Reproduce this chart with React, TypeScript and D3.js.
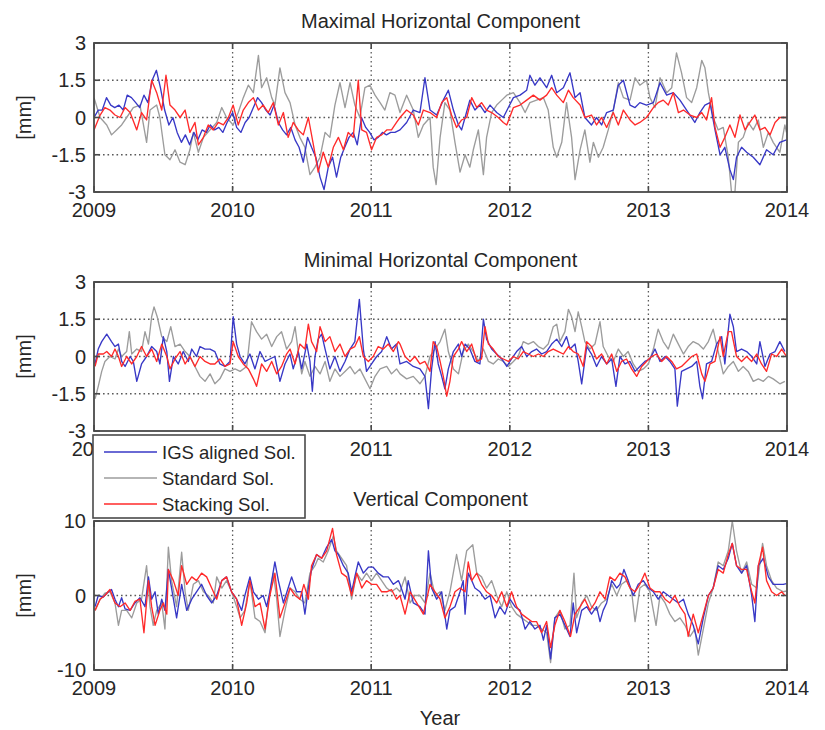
import React from 'react'
import * as d3 from 'd3'

type Pt = [number, number] // [week since 2009-01-01, mm]

const WEEKS_PER_YEAR = 52.18
const years = [2009, 2010, 2011, 2012, 2013, 2014]
const horizTicks = [-3, -1.5, 0, 1.5, 3]
const vertTicks = [-10, 0, 10]
const panelTitles = ['Maximal Horizontal Component', 'Minimal Horizontal Component', 'Vertical Component']
const seriesNames = ['IGS aligned Sol.', 'Standard Sol.', 'Stacking Sol.']
const seriesColors = ['#3838c6', '#9c9c9c', '#ff2a2a']

// Maximal horizontal component
const maxIgs: Pt[] = [
    [0, 0], [1.6, 0.3], [3.1, 0.3], [4.7, 0.8], [6.3, 0.5], [7.8, 0.4], [9.4, 0.5], [11, 0.3], [12.5, 0.9], [14.1, 0.8],
    [15.7, 0.6], [17.2, 0.4], [18.8, 0.9], [20.3, 0.6], [21.9, 1.5], [23.5, 1.9], [25, 1.2], [26.6, 0.3], [28.2, -0.3], [29.7, 0],
    [31.3, -0.6], [32.9, -1], [34.4, -0.7], [36, -1.1], [37.6, -0.6], [39.1, -0.9], [40.7, -0.5], [42.3, -0.6], [43.8, -0.3], [45.4, -0.5],
    [47, -0.4], [48.5, -0.6], [50.1, -0.2], [52.2, 0.2], [53.7, -0.4], [55.3, -0.6], [56.9, -0.2], [58.4, 0], [60, 0.4], [61.6, 0.8],
    [63.1, 0.6], [64.7, 0.3], [66.3, 0.1], [67.8, 0.5], [69.4, -0.2], [71, -0.5], [72.5, -0.7], [74.1, -0.4], [75.7, -0.9], [77.2, -1.2],
    [78.8, -1.8], [80.4, -0.8], [81.9, -1.2], [83.5, -1.6], [85.1, -2.4], [86.6, -2.9], [88.2, -2], [89.8, -1.6], [91.3, -2.4], [92.9, -1.6],
    [94.4, -1.2], [96, -0.8], [97.6, -0.6], [99.1, -1.1], [100.7, 0], [102.3, -0.4], [103.8, -0.6], [105.4, -0.9], [107, -0.8], [108.6, -0.6],
    [110.1, -0.7], [111.7, -0.6], [113.3, -0.6],
    [115.2, -0.5], [117.7, -0.2], [120.2, 0.3], [122.7, 0.2], [124.6, 1.6], [126.5, 0.3], [129, 0.1], [131.5, 0.7], [133.4, 1.1], [135.3, 0.3],
    [137.2, -0.3], [138.4, -0.5], [139.7, 0], [141.5, 0.7], [143.4, 0.3], [145.3, 0.5], [147.2, 0.2], [149.1, 0.5], [151.6, 0.2], [154.1, 0],
    [156, 0.4], [157.9, 0.8], [160.4, 0.9], [162.9, 1.1], [164.1, 1.7], [166, 1.3], [167.9, 1.6], [170.4, 1.2], [172.3, 1.7], [174.2, 1],
    [176.7, 1.2], [179.2, 1.8], [181.1, 0.8], [183, 1], [184.8, 0], [187.3, -0.3], [189.2, 0], [191.1, -0.3], [193, 0.2], [195.5, 0.3],
    [197.4, 1.3], [199.3, 1.5], [201.8, 0.5], [203.7, 0.4], [205.5, 0.6], [208, 0.5], [210.6, 0.6], [213.1, 1.4], [215.6, 0.9], [218.1, 1],
    [220.6, 0.7], [223.1, 0.3], [226.2, -0.2], [228.1, 0.2], [230, 0.5], [231.9, 0.6], [233.8, -0.5], [235.7, -1.5], [237.5, -1.2], [239.4, -2.1],
    [240.7, -2.5], [241.9, -1.6], [243.8, -1.2], [245.7, -1.4], [248.2, -1.6], [250.7, -1.9], [253.2, -1.3], [255.7, -1.5], [258.2, -1], [260.7, -0.9],
]
const maxStd: Pt[] = [
    [0, 0.8], [2.3, 0], [4.8, -0.3], [6.6, -0.7], [8.5, -0.5], [10.4, -0.3], [12.3, 0], [14.8, 0.4], [17.3, 0.5], [19.8, -1],
    [21.1, 0.3], [23.6, 0.5], [24.8, 0], [26.7, -1.5], [28.6, -1.7], [30.5, -1.3], [32.4, -1.8], [34.3, -1.9], [36.1, -1.3], [37.4, -0.6],
    [39.3, -1.4], [41.2, -0.8], [43.7, -0.5], [46.2, -0.2], [48.1, 0.4], [49.9, 0], [52.4, -0.3], [54.3, 0.2], [56.2, 0.8], [58.1, 1.3],
    [60, 1], [61.9, 2.5], [63.1, 1.2], [65, 1.6], [66.9, 0.8], [68.1, 0.5], [70, 2], [71.9, 1], [73.8, 0.6], [75.7, -0.3],
    [77.5, -0.8], [79.4, -1.2], [81.3, -2.3], [83.2, -2], [85.1, -1.6], [87, -0.6], [88.8, -0.8], [90.7, 0.5], [92.6, 1.4], [94.5, 0.4],
    [96.4, 1.4], [98.2, 0.5], [100.1, 0], [102, 1.2], [103.9, 1.3], [105.8, 0.9], [107.7, 0.6], [109.5, 0.3], [111.4, 1], [113.3, 0.9],
    [115.2, 0.2], [117.7, 0.9], [120.2, 0.3], [122.1, -0.8], [124, -0.3], [126.5, 0], [127.7, -2], [128.8, -2.7], [130.3, -0.8], [132.1, 0.6],
    [134, 0.3], [135.9, -1], [137.8, -2.2], [139.7, -1.5], [141.5, -2], [142.8, -1.3], [144.7, -0.5], [146.6, -2.3], [147.8, -0.8], [149.7, 0.2],
    [151.6, 0.5], [153.5, 0.7], [155.4, 0.9], [157.9, 1], [160.4, 0.6], [162.3, 0.2], [164.1, 0.6], [166.6, 0.7], [169.2, 0.8], [171, 0.3],
    [172.9, -1.2], [174.2, -1.6], [176.1, -1], [177.9, 0.6], [179.8, -0.8], [181.1, -2.5], [183, -1.3], [184.8, -0.5], [186.7, -1.8], [188, -1],
    [189.9, -1.6], [191.7, -1.2], [193.6, -0.5], [195.5, 0.3], [197.4, 1.4], [199.3, 0.8], [201.8, 0.7], [203.7, 1.6], [205.5, 1.3], [208, 1.5],
    [209.3, 0.8], [211.2, 0.4], [213.1, 1.6], [215.6, 1], [217.5, 1.2], [219.3, 2.6], [221.2, 1.8], [223.1, 0.8], [225, 0.6], [226.9, 1.2],
    [228.8, 2.3], [230, 2], [231.3, 1], [233.1, 0], [235, -0.5], [236.9, -0.4], [238.8, -1.6], [240, -3], [241.3, -3], [242.6, -1],
    [244.4, -0.8], [246.3, -0.2], [248.2, -0.5], [250.1, -0.1], [252, -1.2], [253.9, -0.6], [255.7, -1], [258.2, -1.4], [260.1, -0.3], [260.7, -0.6],
]
const maxStk: Pt[] = [
    [0, -0.5], [2.3, 0.1], [4.1, 0.4], [6, 0.3], [7.9, 0.1], [9.8, 0], [11.7, 0.4], [13.6, 0.2], [16.1, -0.5], [17.9, 0.2],
    [19.8, -0.1], [21.7, 1.5], [23.6, 1], [25.5, 0.3], [27.1, 1.7], [28.6, 0.5], [30.5, 0.3], [32.4, 0], [34.3, 0.3], [36.1, -0.6],
    [38, -0.2], [39.3, -1.1], [41.2, -0.8], [43, -0.3], [44.9, -0.5], [46.8, -0.2], [48.7, -0.3], [50.6, 0], [52.4, 0.5], [54.3, -0.3],
    [56.2, 0.3], [58.1, 0.6], [60, 0.8], [61.9, 0.3], [63.7, 0.5], [65.6, 0.2], [67.5, 0.6], [69.4, -0.3], [71.3, 0.2], [73.1, -0.8],
    [75, -0.2], [76.9, -0.5], [78.8, -0.7], [80.7, 0], [82.6, -1.1], [84.4, -2.2], [86.3, -1.4], [88.2, -2], [90.1, -1.2], [92, -0.8],
    [93.9, -1.3], [95.7, -0.6], [97.6, -0.8], [99.5, 1.5], [100.8, -0.5], [102.6, -0.6], [104.5, -1.3], [106.4, -0.8], [108.3, -0.7], [110.2, -0.5],
    [112, -0.5], [113.9, -0.2],
    [115.2, 0], [117.7, 0.3], [120.2, 0.1], [122.1, -0.3], [124, 0.3], [126.5, 0.2], [129, 0], [130.9, 0.6], [132.8, 0.8], [134.6, 0.1],
    [136.5, -0.4], [138.4, -0.1], [140.3, 0], [142.2, 0.8], [144.1, 0.4], [145.9, 0.6], [147.8, 0.3], [149.7, 0.2], [152.2, 0], [154.1, -0.2],
    [155.4, -0.3], [157.9, 0.4], [160.4, 0.5], [162.9, 0.7], [165.4, 0.9], [167.9, 0.7], [170.4, 0.9], [172.3, 1.2], [174.2, 0.9], [176.7, 0.6],
    [178.6, 1.1], [180.4, 0.8], [183, 0.5], [184.8, 0], [187.3, 0.1], [189.2, -0.3], [191.1, 0], [193, -0.4], [195.5, 0.2], [197.4, -0.3],
    [199.3, 0.3], [201.8, -0.1], [203.7, -0.3], [205.5, -0.2], [208, 0], [210.6, 0.4], [212.4, 0.6], [214.3, 0.7], [216.2, 0.5], [218.1, 1],
    [220, 0.2], [221.9, 0.3], [224.4, 0.1], [226.9, 0], [228.8, 0.2], [230.6, -0.1], [232.5, 0.8], [233.8, -0.4], [235.7, -1.2], [237.5, -0.8],
    [239.4, -0.3], [241.3, -0.8], [243.2, 0.1], [245.1, -0.5], [246.9, -0.2], [248.8, 0.1], [250.7, -0.5], [252.6, -0.4], [254.5, -0.7], [256.4, -0.2],
    [258.2, 0], [260.7, 0],
]

// Minimal horizontal component
const minIgs: Pt[] = [
    [0.4, -0.3], [1.6, 0.3], [2.9, 0.6], [4.8, 0.9], [6.6, 0.6], [7.9, 0.4], [9.2, 0.5], [10.4, -0.2], [11.7, -0.4], [13.6, 0],
    [14.8, -0.2], [16.1, -1], [17.9, -0.3], [19.8, 0], [21.7, 0.4], [23.6, 0.2], [24.8, -0.3], [26.1, 0.8], [27.4, 0.2], [28.4, -1],
    [29.9, 0], [31.7, -0.3], [33.6, 0.2], [35.5, -0.2], [36.8, 0.3], [38.6, 0], [39.9, 0.4], [41.8, 0.3], [43.7, 0.3], [45.5, 0.2],
    [47.4, -0.3], [49.3, -0.4], [51.2, -0.2], [52.4, 1.6], [53.7, 0.5], [55, 0], [56.8, -0.3], [58.7, 0.1], [60.6, -0.5], [62.5, 0.2],
    [64.4, -0.2], [66.2, -0.1], [68.1, 0], [70, -1], [71.9, -0.3], [73.8, 0.1], [75, -0.5], [76.9, 0.2], [78.2, -0.5], [80.1, 0.5],
    [81.3, -0.2], [82.2, -1.4], [83.2, 0], [84.4, 0.7], [85.7, 0.9], [87, 0.3], [88.8, -0.5], [90.7, 0], [92.6, -0.6], [94.5, -0.2],
    [96.4, 0.3], [98.2, 0.6], [99.9, 2.3], [101.4, 0.3], [102.6, -0.6], [104.5, -0.3], [106.4, 0], [108.3, 0.2], [110.2, 0.8], [112, 0.3],
    [113.9, 0.5],
    [115.2, -0.3], [117.7, -0.2], [120.2, -0.4], [122.7, -0.5], [124.6, -0.8], [125.9, -2.1], [127.1, -0.5], [128.4, 0.6], [129.6, -0.3], [130.9, -0.8],
    [132.1, -1.3], [133.4, -0.5], [135.3, 0.2], [137.2, 0.5], [138.4, 0], [139.7, 0.5], [141.5, 0.3], [143.4, -0.2], [145.3, -0.3], [146.6, 1.5],
    [147.8, 0.7], [149.7, 0.3], [151.6, 0.1], [153.5, -0.1], [155.4, -0.4], [157.2, -0.1], [159.1, 0.2], [161, 0.4], [162.9, 0], [164.8, 0.2],
    [166.6, 0.3], [168.5, 0.1], [170.4, 0.2], [172.3, 0.5], [174.2, 0.7], [176.1, 0.4], [177.9, 0.8], [179.2, 0.3], [181.1, 0.5], [182.3, -0.2],
    [183.6, -1.1], [185.5, 0.4], [187.3, 0.1], [189.2, -0.4], [191.1, 0], [193, -0.3], [194.9, -0.1], [196.5, -1.2], [198, 0], [199.9, -0.3],
    [201.8, -0.2], [203.7, -0.6], [205.5, -0.4], [207.4, -0.2], [209.3, -0.1], [211.2, 0.3], [213.1, -0.2], [215, 0], [216.8, -0.2], [218.7, -0.5],
    [219.6, -2], [221.2, -0.6], [223.1, -0.5], [225, -0.4], [226.9, -0.2], [228.1, -1.2], [229.1, -1.7], [230.6, -0.3], [232.5, -0.2], [234.4, 0.5],
    [236.3, 0.8], [237.5, -0.3], [239.4, 1.7], [240.7, 1.2], [241.9, 0.2], [243.8, 0.3], [245.7, 0.2], [247.6, 0], [249.5, -0.3], [250.7, 0.6],
    [252.6, -0.4], [254.5, 0.1], [256.4, 0.2], [258.2, 0.6], [260.1, 0.2],
]
const minStd: Pt[] = [
    [0.4, -1.7], [1.6, -1.2], [2.9, -0.6], [4.1, -0.2], [6, 0], [7.9, -0.1], [9.2, 0.3], [10.4, 0], [12.3, 0.2], [13.3, 1],
    [14.2, 0.1], [16.1, 0.3], [17.9, 0.2], [19.2, 1], [20.5, 0.5], [21.7, 1.6], [22.6, 2], [23.8, 1.6], [25.5, 0.8], [27.4, 0.6],
    [28.9, 1.2], [30.5, 0.4], [32.4, 0.5], [34.3, 0.2], [36.1, 0], [38, -0.4], [39.9, -0.8], [41.8, -1], [43.7, -0.7], [45.5, -1.1],
    [47.4, -0.9], [49.3, -0.5], [51.2, -0.6], [53.1, -0.5], [55, -0.6], [57.5, -0.4], [59.3, 1.4], [61.2, 1], [63.1, 0.7], [65, 0.9],
    [66.9, 0.4], [68.8, 0.8], [70.6, 1], [72.5, 0.3], [74.4, 0.6], [75.7, 1.2], [76.9, 0.2], [78.2, -0.7], [79.4, -0.2], [81.3, -0.8],
    [83.2, -0.4], [85.1, -0.7], [87, -0.2], [88.8, -1], [90.7, -0.5], [92.6, -0.8], [94.5, -0.6], [96.4, -0.4], [98.2, -0.7], [100.1, -0.5],
    [102, -0.9], [103.9, -1.3], [105.8, -0.8], [107.7, -0.5], [110.2, -0.4], [112, -0.7], [113.9, -0.5],
    [115.2, -0.7], [117.7, -0.9], [120.2, -0.8], [122.7, -1.1], [124.6, -0.8], [126.5, 0], [128.4, 0.3], [130.3, 0.6], [132.1, 1.1], [133.4, 0.2],
    [135.3, -0.5], [137.2, -0.7], [139, 0.2], [140.9, 0.5], [142.8, 0.2], [144.7, -0.2], [146.6, 0.3], [148.5, -0.2], [150.3, -0.3], [152.2, -0.1],
    [154.1, -0.2], [156, -0.4], [157.9, -0.2], [159.7, 0], [161.6, 0.6], [163.5, 0.5], [165.4, 0.6], [167.3, 0.4], [169.2, 0.3], [171, 0.5],
    [172.9, 1.2], [174.2, 1.3], [175.4, 0.6], [177.3, 1], [178.6, 1.9], [179.8, 1.6], [181.1, 1], [182.3, 1.8], [183.6, 1.2], [184.8, 0.6],
    [186.7, 0.3], [188.6, 0.5], [190.5, 1.4], [191.7, 0.4], [193.6, 0], [195.5, -0.2], [197.4, 0.3], [199.3, 0], [201.1, 0.2], [203, -0.3],
    [204.9, -0.6], [206.8, -0.5], [208.7, -0.3], [210.6, 0.3], [212.4, 1.1], [214.3, 0.6], [216.2, 0.3], [218.1, 0.9], [220, 0.5], [221.9, 0.1],
    [223.7, 0.4], [225.6, 0.6], [227.5, 0.5], [229.4, 0.3], [231.3, 0.6], [233.1, 1.1], [235, 0.2], [236.9, -0.7], [238.8, -0.4], [240.7, -0.2],
    [242.6, -0.6], [244.4, -0.4], [246.3, -0.6], [248.2, -1], [250.1, -0.9], [252, -1], [253.9, -0.8], [255.7, -0.9], [258.2, -1.1], [260.1, -1],
]
const minStk: Pt[] = [
    [0.4, -0.4], [1.6, 0.1], [3.5, 0.1], [4.8, 0.2], [6.6, 0], [7.9, 0.3], [9.2, 0], [10.4, -0.4], [12.3, 0], [14.2, -0.3],
    [16.1, 0], [17.9, 0.4], [19.8, 0], [21.7, 0.3], [23.6, -0.2], [25.5, 0.5], [27.4, 0], [28.6, -0.5], [30.5, -0.1], [32.4, 0.2],
    [34.3, -0.3], [36.1, 0], [38, -0.4], [39.9, 0], [41.8, -0.2], [43.7, -0.3], [45.5, -0.3], [47.4, -0.1], [49.3, -0.4], [51.2, -0.3],
    [52.4, 0.6], [54.3, 0], [56.2, -0.3], [58.1, -0.5], [60, -0.9], [61.2, -1.2], [63.1, -0.3], [65, -0.6], [66.9, -0.2], [68.8, -0.7],
    [70.6, -0.4], [72.5, 0.1], [73.8, 0.3], [75.7, -0.3], [77.5, 0.5], [79.4, 0.3], [80.7, 1.3], [81.9, 0.6], [83.8, 0.2], [85.1, 1.2],
    [87, 0.6], [88.8, 0.8], [90.7, 0.2], [92.6, 0.5], [94.5, 0], [96.4, 0.3], [98.2, 0.4], [99.9, 0.8], [101.4, 0], [103.3, -0.2],
    [105.1, 0], [107, 0.4], [108.9, 0.3], [110.8, 0.5], [112.7, 0.2], [114.6, 0.6],
    [115.2, 0.5], [117.1, 0], [119, -0.2], [120.8, 0], [122.7, -0.3], [124.6, -0.2], [126.5, -0.6], [127.7, 0.6], [129, 0.4], [130.3, -0.2],
    [131.5, -0.8], [132.8, -1.6], [134, -1], [135.3, 0], [137.2, 0.3], [138.4, 0.6], [140.3, 0.2], [142.2, 0.5], [144.1, -0.2], [145.9, -0.1],
    [147.2, 1.2], [148.5, 0.5], [150.3, 0.3], [152.2, 0], [154.1, -0.1], [156, -0.2], [157.9, 0], [159.7, -0.1], [161.6, 0.2], [163.5, 0.1],
    [165.4, 0], [167.3, 0.1], [169.2, 0], [171, 0.2], [172.9, 0.3], [174.8, 0.2], [176.7, 0.1], [178.6, 0.4], [180.4, 0.2], [182.3, 0.1],
    [184.2, -0.4], [185.5, 0.6], [187.3, 0.4], [189.2, -0.1], [191.1, 0.1], [193, -0.3], [194.9, 0.1], [196.8, -0.6], [198.6, -0.2], [200.5, -0.1],
    [202.4, -0.5], [204.3, -0.8], [206.2, -0.4], [208, -0.2], [209.9, 0], [211.8, 0.1], [213.7, -0.2], [215.6, 0], [217.5, -0.2], [219.3, -0.5],
    [221.2, -0.4], [223.1, -0.2], [225, 0], [226.9, 0.1], [228.8, -0.7], [230, -1], [231.9, -0.3], [233.8, -0.2], [235.7, 0.8], [236.9, 0],
    [238.8, 1], [240, 1], [241.9, 0], [243.8, -0.2], [245.7, 0], [247.6, -0.2], [249.5, 0.1], [251.3, -0.3], [253.2, -0.6], [255.1, 0.1],
    [257, 0], [258.9, 0.3], [260.7, 0],
]

// Vertical component
const vertIgs: Pt[] = [
    [0.4, -1.5], [1.6, 0], [3.5, -0.2], [5.4, 0.5], [6.6, 0.8], [7.9, -0.5], [9.2, -1.5], [10.4, -0.3], [11.7, -1.8], [13.6, -2],
    [15.4, -1], [17.3, -0.3], [19.2, -1.5], [20.5, 2.5], [21.7, -0.5], [23, 0.5], [24.2, -2.5], [25.5, -0.5], [26.7, -2], [28, 3.5],
    [29.9, -0.5], [31.1, -3], [33, 1.5], [34.9, -2], [36.8, -0.5], [38.6, 0.5], [40.5, 1.5], [42.4, 0], [44.3, -1], [46.2, 0],
    [48.1, 2], [49.9, 2.5], [51.8, 0.5], [53.7, -0.5], [55.6, -2], [56.8, 0], [58.7, 2.5], [60, 0.5], [61.9, -0.5], [63.7, 0],
    [65, -1.5], [66.2, 0.5], [68.1, 4.5], [69.4, 2], [71.3, -1], [73.1, 1], [74.4, 2.5], [76.3, 0.5], [78.2, 0.5], [79.4, -2.5],
    [80.7, 1], [81.9, 3.5], [83.8, 5.5], [85.7, 5], [87.6, 6.5], [89.5, 7.5], [90.7, 6], [92, 5.5], [93.9, 4], [95.7, 3],
    [97, 0.5], [98.2, 2.5], [99.5, 4.5], [101.4, 3], [103.3, 3.8], [105.1, 3.8], [107, 3], [108.9, 2.5], [110.8, 2.5], [112.7, 1.5],
    [114.6, 2],
    [115.2, 1.5], [117.1, -0.5], [118.3, 2], [120.2, -1], [122.7, -1.5], [124.6, -2.5], [125.9, 6], [127.1, 1], [129, -0.5], [130.9, 0.5],
    [132.8, -4.5], [134, -2], [135.9, -1.5], [137.8, 0.5], [139, 2], [139.7, -2.5], [140.9, 3], [142.2, 2], [143.4, 1], [145.3, 0.5],
    [147.2, -0.5], [149.1, 0], [151, -3], [152.8, -1.5], [154.7, -2.5], [156.6, -0.5], [158.5, -1.5], [160.4, -2], [162.3, -4.5], [164.1, -3.5],
    [166, -4.5], [167.9, -4], [169.2, -6], [170.4, -4], [171.9, -8.5], [173.5, -3], [175.4, -2.5], [177.3, -4], [179.2, -5.5], [180.4, -1],
    [181.7, -5], [183.6, -2], [185.5, -1.5], [187.3, -2.5], [189.2, -1.5], [190.5, -3.5], [191.7, -2], [193, -1], [194.9, 2], [196.8, 1],
    [198, 1.5], [199.5, 3.5], [201.1, 2], [203, 0], [204.9, 1.5], [206.8, 2], [208.7, 1], [210.6, 0.5], [212.4, -0.5], [214.3, 0.5],
    [216.2, 0], [218.1, -0.5], [220, -1], [221.9, -0.5], [223.7, -2.5], [225.6, -4], [227.5, -6.5], [229.4, -3], [231.3, 0], [233.1, 1],
    [235, 4], [236.9, 3.5], [238.8, 5], [240.3, 7], [241.9, 4], [243.8, 3], [245.7, 4], [247.6, 0], [248.8, -3.5], [250.1, 4],
    [252, 5], [253.9, 2.5], [255.7, 1.5], [257.6, 1.5], [259.5, 1.5], [260.7, 1.6],
]
const vertStd: Pt[] = [
    [0.4, -2], [2.3, -0.5], [4.1, 0.3], [6, 0.5], [7.9, -1], [9.2, -4], [10.4, -2], [12.3, -2], [14.2, -3], [16.1, -1],
    [17.9, -0.5], [19.8, 4], [21.1, -1.5], [22.3, -4], [23.6, -2], [25.5, -1], [26.7, -4.5], [28, 6.5], [29.2, 2], [31.1, -1.5],
    [33, 5.8], [34.3, 0.5], [35.5, -2], [37.4, 1.5], [39.3, 2], [41.2, 0.5], [43, 0], [44.9, -1], [46.2, 2.5], [48.1, 1],
    [49.9, 2], [51.8, 0.5], [53.7, -1.5], [55, -3], [56.8, -2], [58.7, 2], [60.6, -3], [62.5, -3.5], [64.4, -5], [65.6, -1],
    [67.5, 3], [68.8, -0.5], [70, -5.5], [71.9, -2], [73.8, 1], [75.7, 0.5], [77.5, -0.5], [79.4, -1], [81.3, 3], [83.2, 4],
    [84.4, 5], [86.3, 4.5], [88.2, 6], [90.1, 8], [91.3, 6], [93.2, 5], [95.1, 4], [97, -0.5], [98.9, 3], [100.8, 2],
    [102.6, 3], [104.5, 2], [106.4, 3], [108.3, 2], [110.2, 1], [112, 0.5], [113.9, 1],
    [115.2, 0.5], [117.1, 2.5], [119, -1], [120.8, 0], [122.7, 0], [124.6, -1], [126.5, 3], [128.4, 0], [130.3, 0.5], [132.1, -2],
    [134, 0.5], [136.5, 5.5], [138.4, 2], [140.3, 6], [142.6, 6.8], [144.1, 3], [145.9, 2.5], [147.8, 1], [149.7, 2], [151.6, 0],
    [153.5, -1.5], [155.4, 0.5], [157.2, -1.5], [159.1, -2.5], [161, -3], [162.9, -3.5], [164.8, -4], [166.6, -4], [168.5, -4.5], [170.4, -5],
    [171.9, -9], [173.5, -3], [175.4, -2], [177.3, -4.5], [179.2, -4], [180.7, 3], [181.7, -3], [183.6, -1], [185.5, 0], [187.3, -1.5],
    [189.2, -2], [191.1, -1], [193, -0.5], [194.9, 1.5], [196.8, 0], [198.6, 1.5], [200.5, 2], [202.4, 0.5], [203.7, -3.5], [205.5, 1],
    [207.4, 1.5], [209.3, 0.5], [211.6, -4], [213.1, 0], [215, -1], [216.8, -2.5], [218.7, -3.5], [220.6, -3], [222.5, -4], [224.4, -5.5],
    [226.2, -4.5], [227.5, -8], [229.4, -4.5], [231.3, -1], [233.1, 1], [235, 4.5], [236.9, 4], [238.8, 6], [240.3, 10], [241.9, 6],
    [243.8, 3], [245.7, 4.5], [247.6, 1.5], [249.5, 1], [251.7, 7], [253.2, 4], [255.1, 2], [257, 1], [259.5, 0.5], [260.7, 0.6],
]
const vertStk: Pt[] = [
    [0.4, -2], [2.3, -0.5], [4.1, 0], [6, 0.8], [7.9, -1], [9.8, -1.5], [11.7, -1], [13.6, -2], [15.4, -0.8], [17.3, -0.5],
    [18.8, -5], [20.5, 2], [21.7, -1.5], [23, -4], [24.8, -2], [26.1, -1], [27.4, -2.5], [28, 3.5], [29.9, 2], [31.7, 0],
    [33, 4], [34.9, 1.5], [36.8, 2.5], [38.6, 2], [40.5, 3], [42.4, 2.5], [44.3, 1], [46.2, -0.5], [48.1, 2], [49.9, 2.5],
    [51.8, 0.5], [53.7, -0.5], [55.6, -4], [57.5, -1], [58.7, 2], [60.6, -1.5], [62.5, -1], [64.4, -4.5], [66.2, 0], [68.1, 3],
    [70, -3], [71.9, -1], [73.8, 1], [75.7, 0], [77.5, -0.5], [79, 1.5], [80.7, -0.5], [81.9, 4], [83.8, 5.5], [85.7, 5],
    [87.6, 6], [89.8, 9], [91.3, 5.5], [93.2, 3], [95.1, 2.5], [97, 0], [98.9, 3], [100.8, 1], [102.6, 2], [104.5, 1.5],
    [106.4, 1.5], [108.3, 0.5], [110.2, 0.5], [112, 0.8], [113.9, -0.5],
    [115.2, 0], [117.1, -2.5], [119, 0.5], [121.5, -1], [124, -2.5], [126.5, 1.5], [128.4, 0.5], [130.3, -0.5], [132.1, -3], [134, -1.5],
    [135.9, 0.5], [137.8, 1], [139.7, 0.5], [140.9, 4.5], [142.2, 2], [144.1, 3], [145.9, 1.5], [147.8, 0.5], [149.7, 0], [151.6, -1],
    [153.5, 0.5], [155.4, -1.5], [157.2, 0.5], [159.1, -1.5], [161, -2.5], [162.9, -3], [164.8, -3.5], [166.6, -3.5], [168.5, -5], [170.4, -3.5],
    [171.9, -7], [173.5, -4], [175.4, -2], [177.3, -3.5], [179.4, -5.5], [181.1, -2.5], [183, -1.5], [184.8, -0.5], [186.7, -2], [188.6, -1],
    [190.5, 0.5], [192.4, -0.5], [194.2, 2.5], [196.1, 2], [198, 3], [199.9, 2.5], [201.8, 1], [203.7, 0.5], [205.5, 1.5], [207.4, 3],
    [209.3, 1], [211.2, 0.5], [213.1, 0.5], [215, -0.5], [216.8, -1], [218.7, 0], [220.6, -1.5], [222.5, -2.5], [223.7, -5.5], [225.6, -2.5],
    [227.5, -5], [229.4, -2.5], [231.3, 0], [233.1, 1], [235, 3.5], [236.9, 3], [238.8, 5.5], [240.3, 7], [241.9, 4], [243.8, 3.5],
    [245.7, 3.5], [247.6, 0.5], [248.8, -1], [250.1, 4], [251.7, 6.5], [253.2, 2], [255.1, 0.5], [257, 0], [258.9, 0.5], [260.1, 0],
]

const FONT = '"Liberation Sans", Arial, sans-serif'
const W = 825
const H = 730
const plotLeft = 94
const plotRight = 787
const plotH = 149
const panelTops = [43, 282, 521]
const frameColor = '#4a4a4a'
const textColor = '#262626'

const xScale = d3.scaleLinear().domain([2009, 2014]).range([plotLeft, plotRight])
const toYear = (w: number) => 2009 + w / WEEKS_PER_YEAR

interface PanelProps {
    idx: number
    top: number
    title: string
    ticks: number[]
    series: Pt[][]
    hiddenYears?: number[] // year labels sitting under the legend box
}

const Panel: React.FC<PanelProps> = ({ idx, top, title, ticks, series, hiddenYears = [] }) => {
    const yScale = d3
        .scaleLinear()
        .domain([ticks[0], ticks[ticks.length - 1]])
        .range([top + plotH, top])
    const line = d3
        .line<Pt>()
        .x((d) => xScale(toYear(d[0])))
        .y((d) => yScale(d[1]))
    const clipId = `clip-${idx}`
    const bottom = top + plotH

    return (
        <g>
            <defs>
                <clipPath id={clipId}>
                    <rect x={plotLeft} y={top} width={plotRight - plotLeft} height={plotH} />
                </clipPath>
            </defs>
            <rect x={plotLeft} y={top} width={plotRight - plotLeft} height={plotH} fill="#fff" />
            {/* grid */}
            {years.slice(1, -1).map((yr) => (
                <line key={`gx${yr}`} x1={xScale(yr)} x2={xScale(yr)} y1={top} y2={bottom}
                    stroke="#5a5a5a" strokeWidth={1.3} strokeDasharray="1.6 2.9" />
            ))}
            {ticks.slice(1, -1).map((t) => (
                <line key={`gy${t}`} x1={plotLeft} x2={plotRight} y1={yScale(t)} y2={yScale(t)}
                    stroke="#5a5a5a" strokeWidth={1.3} strokeDasharray="1.6 2.9" />
            ))}
            {/* series: standard, IGS, stacking */}
            <g clipPath={`url(#${clipId})`} fill="none" strokeWidth={1.35} strokeLinejoin="round">
                <path d={line(series[1]) ?? ''} stroke={seriesColors[1]} />
                <path d={line(series[0]) ?? ''} stroke={seriesColors[0]} />
                <path d={line(series[2]) ?? ''} stroke={seriesColors[2]} />
            </g>
            {/* frame and ticks */}
            <rect x={plotLeft} y={top} width={plotRight - plotLeft} height={plotH} fill="none" stroke={frameColor} strokeWidth={1.8} />
            {years.map((yr) => (
                <g key={`tx${yr}`}>
                    <line x1={xScale(yr)} x2={xScale(yr)} y1={bottom} y2={bottom - 6} stroke={frameColor} strokeWidth={1.6} />
                    <line x1={xScale(yr)} x2={xScale(yr)} y1={top} y2={top + 6} stroke={frameColor} strokeWidth={1.6} />
                    {hiddenYears.includes(yr) ? null : (
                        <text x={xScale(yr)} y={bottom + 25} textAnchor="middle" fontSize={20} fill={textColor}>{yr}</text>
                    )}
                </g>
            ))}
            {ticks.map((t) => (
                <g key={`ty${t}`}>
                    <line x1={plotLeft} x2={plotLeft + 6} y1={yScale(t)} y2={yScale(t)} stroke={frameColor} strokeWidth={1.6} />
                    <line x1={plotRight} x2={plotRight - 6} y1={yScale(t)} y2={yScale(t)} stroke={frameColor} strokeWidth={1.6} />
                    <text x={86} y={yScale(t)} dy="0.36em" textAnchor="end" fontSize={20} fill={textColor}>{String(t)}</text>
                </g>
            ))}
            <text x={(plotLeft + plotRight) / 2} y={top - 15.5} textAnchor="middle" fontSize={20} fill={textColor}>{title}</text>
            <text transform={`translate(31,${top + plotH / 2}) rotate(-90)`} textAnchor="middle" fontSize={20} fill={textColor}>[mm]</text>
        </g>
    )
}

const Legend: React.FC = () => {
    const x0 = 93
    const y0 = 435
    const rowY = [452, 478, 504]
    return (
        <g>
            <rect x={x0} y={y0} width={212} height={83} fill="#fff" stroke={frameColor} strokeWidth={1.6} />
            {seriesNames.map((name, i) => (
                <g key={name}>
                    <line x1={104} x2={157} y1={rowY[i]} y2={rowY[i]} stroke={seriesColors[i]} strokeWidth={1.5} />
                    <text x={162} y={rowY[i]} dy="0.36em" fontSize={18.5} fill={textColor}>{name}</text>
                </g>
            ))}
        </g>
    )
}

export default function App() {
    const panels = [
        { title: panelTitles[0], ticks: horizTicks, series: [maxIgs, maxStd, maxStk], hidden: [] as number[] },
        { title: panelTitles[1], ticks: horizTicks, series: [minIgs, minStd, minStk], hidden: [2010] },
        { title: panelTitles[2], ticks: vertTicks, series: [vertIgs, vertStd, vertStk], hidden: [] as number[] },
    ]
    return (
        <svg width={W} height={H} style={{ position: 'absolute', left: 0, top: 0, background: '#fff' }}
            fontFamily={FONT}>
            <rect width={W} height={H} fill="#fff" />
            {panels.map((p, i) => (
                <Panel key={p.title} idx={i} top={panelTops[i]} title={p.title} ticks={p.ticks}
                    series={p.series} hiddenYears={p.hidden} />
            ))}
            <Legend />
            <text x={440} y={725} textAnchor="middle" fontSize={20} fill={textColor}>Year</text>
        </svg>
    )
}
